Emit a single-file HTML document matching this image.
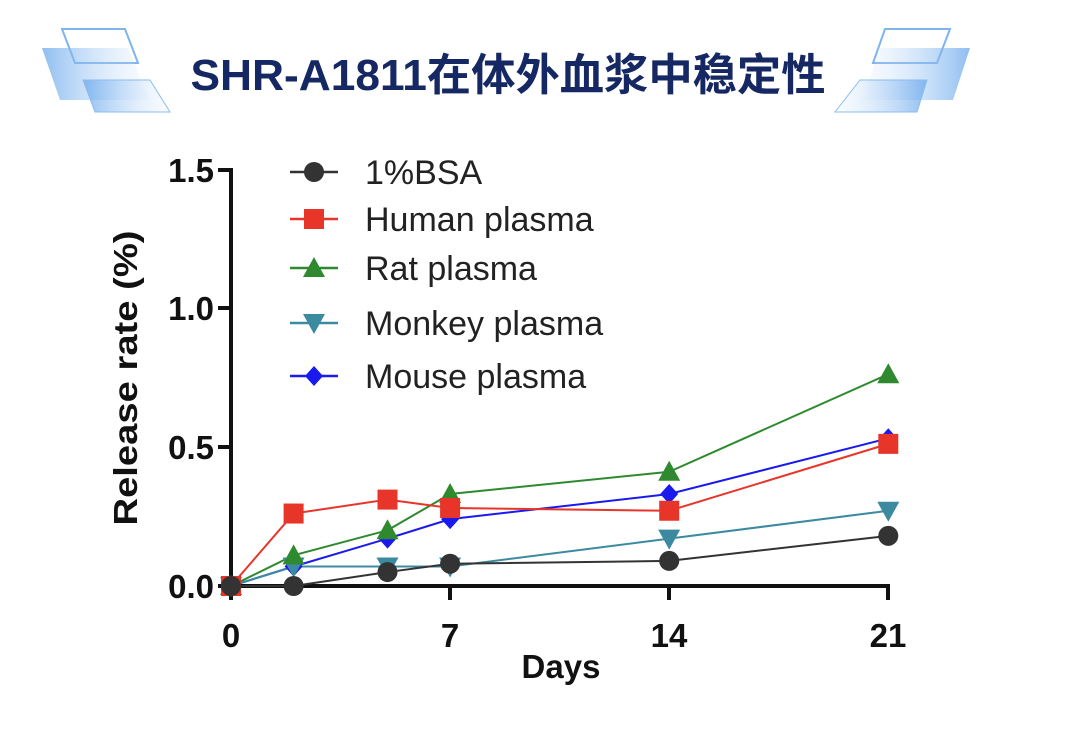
<!DOCTYPE html>
<html><head><meta charset="utf-8"><style>
body{margin:0;background:#fff;width:1080px;height:731px;overflow:hidden}
svg{display:block}
</style></head><body>
<svg width="1080" height="731" xmlns="http://www.w3.org/2000/svg" font-family="Liberation Sans, Arial, sans-serif">
<defs>
<linearGradient id="gl" x1="0" x2="1"><stop offset="0" stop-color="#6aa8ec" stop-opacity="0.75"/><stop offset="1" stop-color="#cfe3fa" stop-opacity="0.1"/></linearGradient>
<linearGradient id="gr" x1="1" x2="0"><stop offset="0" stop-color="#6aa8ec" stop-opacity="0.75"/><stop offset="1" stop-color="#cfe3fa" stop-opacity="0.1"/></linearGradient>
</defs>
<g>
<polygon points="62,29 125,29 138,63 75,63" fill="none" stroke="#7fb4ee" stroke-width="2"/>
<polygon points="42,48 128,48 150,100 60,100" fill="url(#gl)"/>
<polygon points="83,80 150,80 170,112 95,112" fill="url(#gl)" stroke="#8bbcf0" stroke-width="1"/>
<polygon points="950,29 885,29 873,63 937,63" fill="none" stroke="#7fb4ee" stroke-width="2"/>
<polygon points="970,48 880,48 862,100 953,100" fill="url(#gr)"/>
<polygon points="927,80 860,80 835,112 917,112" fill="url(#gr)" stroke="#8bbcf0" stroke-width="1"/>
</g>
<text x="508" y="90" text-anchor="middle" font-size="44" font-weight="bold" fill="#152863" font-family="Liberation Sans, Noto Sans CJK SC, sans-serif" textLength="635" lengthAdjust="spacingAndGlyphs">SHR-A1811在体外血浆中稳定性</text>
<g stroke="#111" stroke-width="4" fill="none">
<line x1="231" y1="168" x2="231" y2="600"/>
<line x1="229" y1="586" x2="890" y2="586"/>
<line x1="218" y1="170" x2="231" y2="170"/>
<line x1="218" y1="308" x2="231" y2="308"/>
<line x1="218" y1="447" x2="231" y2="447"/>
<line x1="218" y1="586" x2="231" y2="586"/>
<line x1="450" y1="586" x2="450" y2="600"/>
<line x1="669" y1="586" x2="669" y2="600"/>
<line x1="888" y1="586" x2="888" y2="600"/>
</g>
<g font-size="33" font-weight="bold" fill="#111" text-anchor="end">
<text x="214" y="182">1.5</text><text x="214" y="320">1.0</text><text x="214" y="459">0.5</text><text x="214" y="598">0.0</text>
</g>
<g font-size="33" font-weight="bold" fill="#111" text-anchor="middle">
<text x="231" y="647">0</text><text x="450" y="647">7</text><text x="669" y="647">14</text><text x="888" y="647">21</text>
<text x="561" y="678">Days</text>
<text transform="translate(137,378) rotate(-90)" textLength="295" lengthAdjust="spacingAndGlyphs">Release rate (%)</text>
</g>
<g id="plot"></g>
<g id="leg"></g>
</svg>
<script>
var X=function(d){return 231+31.3*d},Y=function(v){return 586-278.7*v};
var days=[0,2,5,7,14,21];
var S=[
["1%BSA","#333",[0,0,0.05,0.08,0.09,0.18],"c"],
["Human plasma","#e8352a",[0,0.26,0.31,0.28,0.27,0.51],"s"],
["Rat plasma","#2f8a2f",[0,0.11,0.20,0.33,0.41,0.76],"t"],
["Monkey plasma","#3b8aa0",[0,0.07,0.07,0.07,0.17,0.27],"v"],
["Mouse plasma","#1a1aee",[0,0.07,0.17,0.24,0.33,0.53],"d"]];
function mk(t,x,y,c){
 if(t=="c")return '<circle cx="'+x+'" cy="'+y+'" r="10" fill="'+c+'"/>';
 if(t=="s")return '<rect x="'+(x-10)+'" y="'+(y-10)+'" width="20" height="20" fill="'+c+'"/>';
 if(t=="t")return '<polygon points="'+x+','+(y-11)+' '+(x+11)+','+(y+9)+' '+(x-11)+','+(y+9)+'" fill="'+c+'"/>';
 if(t=="v")return '<polygon points="'+x+','+(y+11)+' '+(x+11)+','+(y-9)+' '+(x-11)+','+(y-9)+'" fill="'+c+'"/>';
 return '<polygon points="'+x+','+(y-10)+' '+(x+9)+','+y+' '+x+','+(y+10)+' '+(x-9)+','+y+'" fill="'+c+'"/>';
}
var h='';var order=[4,3,2,1,0];
order.forEach(function(i){var s=S[i];var p=days.map(function(d,j){return X(d)+','+Y(s[2][j])}).join(' ');
 h+='<polyline points="'+p+'" fill="none" stroke="'+s[1]+'" stroke-width="2"/>';});
order.forEach(function(i){var s=S[i];days.forEach(function(d,j){h+=mk(s[3],X(d),Y(s[2][j]),s[1]);});});
document.getElementById('plot').innerHTML=h;
var ly=[172,219,268,323,376],l='';
S.forEach(function(s,i){l+='<line x1="290" y1="'+ly[i]+'" x2="338" y2="'+ly[i]+'" stroke="'+s[1]+'" stroke-width="2.5"/>'+mk(s[3],314,ly[i],s[1])+
 '<text x="365" y="'+(ly[i]+12)+'" font-size="34" fill="#222">'+s[0]+'</text>';});
document.getElementById('leg').innerHTML=l;
</script>
</body></html>
